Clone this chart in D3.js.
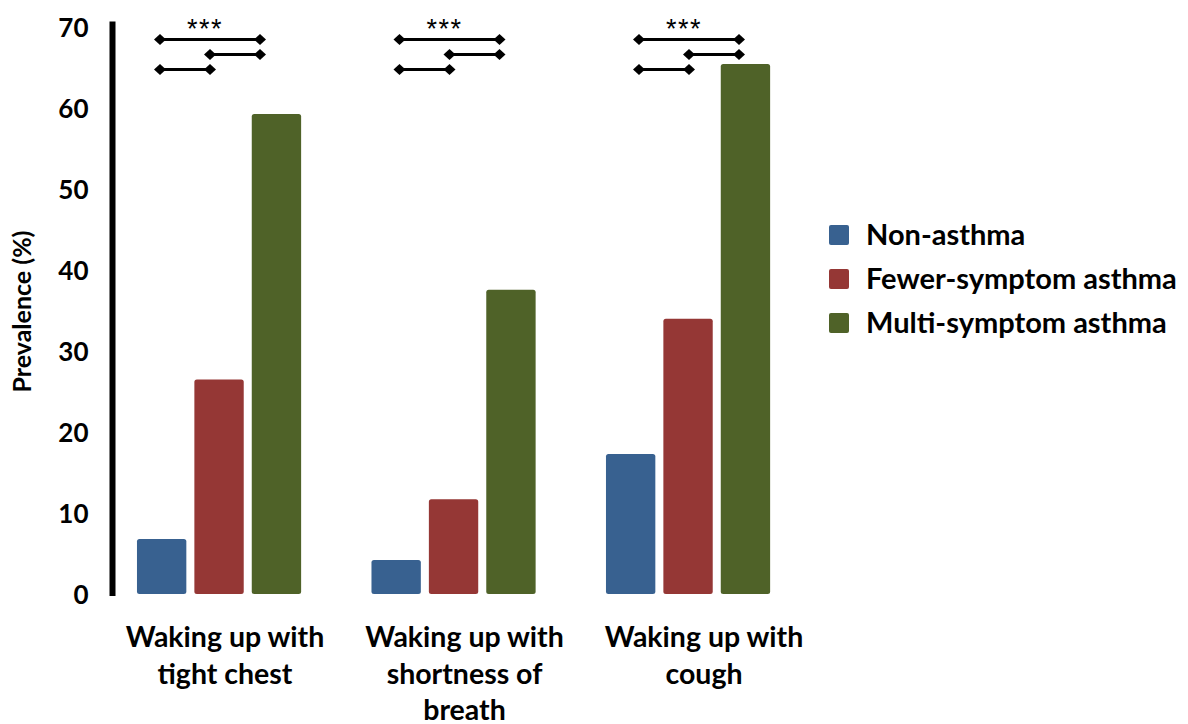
<!DOCTYPE html>
<html>
<head>
<meta charset="utf-8">
<script src="https://cdn.jsdelivr.net/npm/d3@7"></script>
<style>
  html, body { margin: 0; padding: 0; background: #fff; }
  svg { display: block; }
  text { font-family: Lato, "Open Sans", sans-serif; font-weight: 700; fill: #000; }
</style>
</head>
<body>
<svg id="chart" width="1188" height="724"></svg>
<script>
// ---- data ----
const categories = ["tight chest", "shortness of breath", "cough"];
const categoryLines = [
  ["Waking up with", "tight chest"],
  ["Waking up with", "shortness of", "breath"],
  ["Waking up with", "cough"]
];
const seriesNames = ["Non-asthma", "Fewer-symptom asthma", "Multi-symptom asthma"];
const nonAsthma = [6.8, 4.2, 17.3];
const fewerSymptom = [26.5, 11.7, 34.0];
const multiSymptom = [59.3, 37.6, 65.5];
const yTicks = [0, 10, 20, 30, 40, 50, 60, 70];
const sigLabels = ["***", "***", "***"];
const colors = ["#386190", "#953735", "#4f6228"];

const seriesValues = [nonAsthma, fewerSymptom, multiSymptom];

// ---- layout ----
const svg = d3.select("#chart");

const y = d3.scaleLinear().domain([0, 70]).range([594, 27.5]);

const x0 = d3.scaleBand().domain(categories)
  .range([101.8, 805.3]).paddingInner(0.3).paddingOuter(0.15);
const x1 = d3.scaleBand().domain(seriesNames)
  .range([0, x0.bandwidth()]).paddingInner(0.14).paddingOuter(0);

// annotation (labels + brackets) scale
const xa = d3.scalePoint().domain(categories).range([225, 704]);

// bars
const barData = [];
categories.forEach((c, i) => {
  seriesNames.forEach((s, j) => {
    barData.push({ cat: c, ser: s, v: seriesValues[j][i], j });
  });
});
svg.append("g").selectAll("rect").data(barData).join("rect")
  .attr("x", d => x0(d.cat) + x1(d.ser))
  .attr("y", d => y(d.v))
  .attr("width", x1.bandwidth())
  .attr("height", d => y(0) - y(d.v))
  .attr("rx", 2.5)
  .attr("fill", d => colors[d.j]);

// y axis
const yAxis = d3.axisLeft(y).tickValues(yTicks).tickSize(0).tickPadding(24);
const gy = svg.append("g").attr("transform", "translate(112.5,0)").call(yAxis);
gy.select(".domain").attr("stroke", "#000").attr("stroke-width", 6)
  .attr("d", `M0,${y(70) - 6}V${y(0) + 2}`);
gy.selectAll(".tick text")
  .style("font-family", "Lato, sans-serif").style("font-weight", "700")
  .attr("font-size", 26).attr("fill", "#000").attr("dy", "0.36em");

// y label
svg.append("text")
  .attr("transform", `translate(31,${(233 + 390) / 2}) rotate(-90)`)
  .attr("text-anchor", "middle")
  .attr("font-size", 25)
  .text("Prevalence (%)");

// x labels
const xl = svg.append("g");
categories.forEach((c, i) => {
  const t = xl.append("text")
    .attr("x", xa(c)).attr("y", 647)
    .attr("text-anchor", "middle").attr("font-size", 28.5);
  categoryLines[i].forEach((line, k) => {
    t.append("tspan").attr("x", xa(c)).attr("y", 647 + k * 36.5).text(line);
  });
});

// significance brackets
const diamond = (g, cx, cy) => g.append("path")
  .attr("d", `M${cx - 6},${cy}L${cx},${cy - 5.5}L${cx + 6},${cy}L${cx},${cy + 5.5}Z`)
  .attr("fill", "#000");
const bg = svg.append("g");
categories.forEach((c, i) => {
  const cx = xa(c);
  const L = cx - 65, M = cx - 15, R = cx + 35;
  const segs = [[L, R, 39.5], [M, R, 54.5], [L, M, 69.5]];
  segs.forEach(([a, b, yy]) => {
    bg.append("line").attr("x1", a).attr("x2", b).attr("y1", yy).attr("y2", yy)
      .attr("stroke", "#000").attr("stroke-width", 3);
    diamond(bg, a, yy);
    diamond(bg, b, yy);
  });
  bg.append("text")
    .attr("x", (L + R) / 2 - 5).attr("y", 38)
    .attr("text-anchor", "middle")
    .attr("font-size", 27)
    .style("font-family", "'Liberation Sans', Arial, sans-serif")
    .style("font-weight", "400")
    .attr("letter-spacing", 1.5)
    .text(sigLabels[i]);
});

// legend
const lg = svg.append("g");
seriesNames.forEach((s, j) => {
  const cy = 235 + j * 44;
  lg.append("rect").attr("x", 829).attr("y", cy - 10).attr("width", 20).attr("height", 20)
    .attr("rx", 2).attr("fill", colors[j]);
  lg.append("text").attr("x", 866).attr("y", cy).attr("dy", "0.36em")
    .attr("font-size", 29).text(s);
});
</script>
</body>
</html>
